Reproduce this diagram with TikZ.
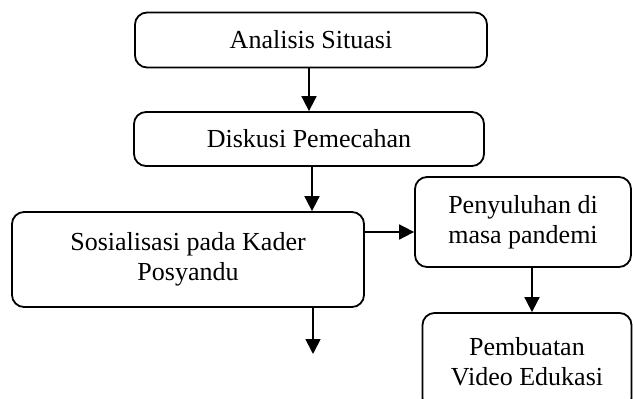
\documentclass[tikz,border=0pt]{standalone}
\usepackage{fontspec}
\setmainfont{Liberation Serif}
\usetikzlibrary{arrows.meta}
\begin{document}
\begin{tikzpicture}[x=1pt,y=-1pt,
  box/.style={draw, line width=1.8pt, rounded corners=12pt, inner sep=0pt,
    align=center, font=\fontsize{26}{30}\selectfont},
  arr/.style={line width=1.8pt, -{Triangle[length=15pt,width=15pt]}}]
\useasboundingbox (0,0) rectangle (633,399);
\clip (0,0) rectangle (633,399);
\node[box, minimum width=352pt, minimum height=55pt] (b1) at (311,40) {Analisis Situasi};
\node[box, minimum width=350pt, minimum height=54pt] (b2) at (309,139) {Diskusi Pemecahan};
\node[box, minimum width=352pt, minimum height=95pt] (b3) at (188,259.5) {Sosialisasi pada Kader\\Posyandu};
\node[box, minimum width=216pt, minimum height=90pt] (b4) at (523,222) {Penyuluhan di\\masa pandemi};
\node[box, minimum width=209pt, minimum height=97pt] (b5) at (527,361.5) {Pembuatan\\Video Edukasi};
\coordinate (end) at (313,354);
\coordinate (ry) at (0,232);
\draw[arr] ([xshift=-2pt]b1.south) -- ([xshift=-2pt]b1.south |- b2.north);
\draw[arr] ([xshift=3pt]b2.south) -- ([xshift=3pt]b2.south |- b3.north);
\draw[arr] (b3.south -| end) -- (end);
\draw[arr] (b3.east |- ry) -- (b4.west |- ry);
\draw[arr] ([xshift=9pt]b4.south) -- ([xshift=9pt]b4.south |- b5.north);
\end{tikzpicture}
\end{document}
